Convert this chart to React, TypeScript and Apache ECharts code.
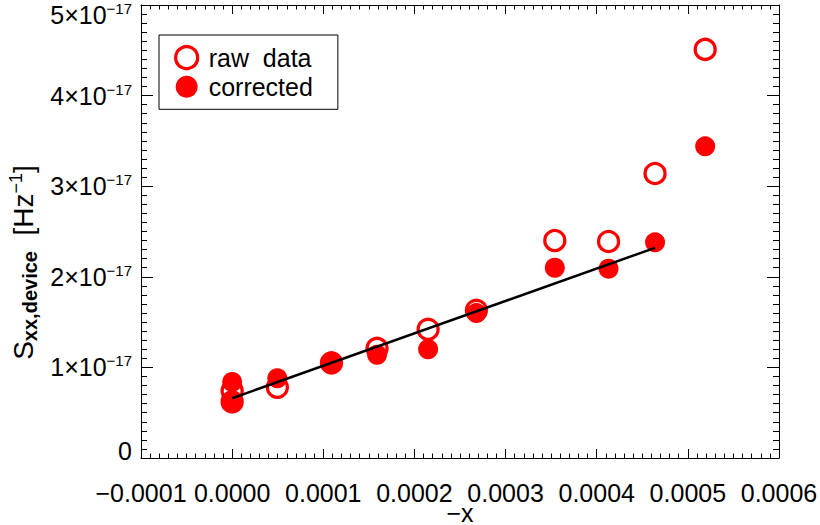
import React, { useEffect, useRef } from "react";
import * as echarts from "echarts";

// x positions (−x) shared by both data sets
const xValues = [0, 0, 0.0000496, 0.000109, 0.000159, 0.000215, 0.000268, 0.000354, 0.000413, 0.000464, 0.000519];
// S_xx,device in units of 1e-17 Hz^-1
const rawValues = [0.74, 0.62, 0.78, 1.05, 1.21, 1.42, 1.63, 2.4, 2.39, 3.14, 4.51];
const correctedValues = [0.84, 0.62, 0.88, 1.06, 1.14, 1.2, 1.6, 2.1, 2.09, 2.38, 3.44];
// linear fit end points
const fitX = [0, 0.000464];
const fitY = [0.66, 2.32];

const FONT = '"Liberation Sans", Arial, Helvetica, sans-serif';
const RED = "#ff0000";

export default function App() {
  const ref = useRef<HTMLDivElement>(null);
  useEffect(() => {
    const chart = echarts.init(ref.current as HTMLDivElement, null, { renderer: "svg" });
    const raw = xValues.map((x, i) => [x, rawValues[i]]);
    const cor = xValues.map((x, i) => [x, correctedValues[i]]);
    const fit = fitX.map((x, i) => [x, fitY[i]]);

    const xBase = {
      type: "value",
      min: -0.0001,
      max: 0.0006,
      interval: 0.0001,
      axisLine: { show: true, onZero: false, lineStyle: { color: "#000", width: 1 } },
      axisTick: { show: true, inside: true, length: 9, lineStyle: { color: "#000", width: 1 } },
      minorTick: { show: true, splitNumber: 10, length: 4.5, lineStyle: { color: "#000", width: 1 } },
      splitLine: { show: false },
      minorSplitLine: { show: false },
    };
    const yBase = {
      type: "value",
      min: 0,
      max: 5,
      interval: 1,
      axisLine: { show: true, onZero: false, lineStyle: { color: "#000", width: 1 } },
      axisTick: { show: true, inside: true, length: 12, lineStyle: { color: "#000", width: 1 } },
      minorTick: { show: true, splitNumber: 10, length: 6, lineStyle: { color: "#000", width: 1 } },
      splitLine: { show: false },
      minorSplitLine: { show: false },
    };

    chart.setOption({
      animation: false,
      backgroundColor: "#fff",
      textStyle: { fontFamily: FONT },
      grid: { left: 141, right: 41, top: 5, bottom: 67, containLabel: false, outerBoundsMode: "none" },
      legend: {
        show: true,
        left: 159,
        top: 35,
        orient: "vertical",
        padding: [10, 25, 10, 15],
        itemGap: 4,
        itemWidth: 22,
        itemHeight: 22,
        backgroundColor: "#fff",
        borderColor: "#000",
        borderWidth: 1,
        borderRadius: 0,
        textStyle: { fontFamily: FONT, fontSize: 25, lineHeight: 22, color: "#000", padding: [0, 0, 0, 6] },
        data: [
          { name: "raw data", icon: "circle", itemStyle: { color: "rgba(255,255,255,0)", borderColor: RED, borderWidth: 3.3 } },
          { name: "corrected", icon: "circle", itemStyle: { color: RED, borderWidth: 0 } },
        ],
        formatter: (n: string) => (n === "raw data" ? "raw  data" : n),
      },
      xAxis: [
        {
          ...xBase,
          position: "bottom",
          name: "−x",
          nameLocation: "middle",
          nameGap: 42,
          nameMoveOverlap: false,
          nameTextStyle: { fontFamily: FONT, fontSize: 25, color: "#000", verticalAlign: "top" },
          axisLabel: {
            show: true,
            margin: 22,
            fontFamily: FONT,
            fontSize: 25,
            color: "#000",
            formatter: (v: number) => v.toFixed(4).replace("-", "−"),
          },
        },
        { ...xBase, position: "top", axisLabel: { show: false } },
      ],
      yAxis: [
        {
          ...yBase,
          position: "left",
          name: "{s|S}{sub|xx,device}{s|  [Hz}{sup|−1}{e|]}",
          nameLocation: "middle",
          nameRotate: 90,
          nameGap: 104,
          nameMoveOverlap: false,
          nameTextStyle: {
            fontFamily: FONT,
            color: "#000",
            rich: {
              s: { fontFamily: FONT, fontSize: 28, lineHeight: 28, color: "#000" },
              e: { fontFamily: FONT, fontSize: 28, lineHeight: 28, padding: [0, 62, 0, 0], color: "#000" },
              sub: { fontFamily: FONT, fontSize: 20, fontWeight: "bold", lineHeight: 20, padding: [14, 0, 0, 0], color: "#000" },
              sup: { fontFamily: FONT, fontSize: 18, lineHeight: 18, padding: [0, 0, 14, 0], color: "#000" },
            },
          },
          axisLabel: {
            show: true,
            margin: 9,
            color: "#000",
            formatter: (v: number) => {
              const n = Math.round(v);
              if (n === 0) return "{z|0}";
              if (n === 5) return `{at|${n}×10}{st|−17}`;
              return `{a|${n}×10}{s|−17}`;
            },
            rich: {
              a: { fontFamily: FONT, fontSize: 25, lineHeight: 26, color: "#000" },
              s: { fontFamily: FONT, fontSize: 15, lineHeight: 15, padding: [0, 0, 13, 0], color: "#000" },
              at: { fontFamily: FONT, fontSize: 25, lineHeight: 26, padding: [20, 0, 0, 0], color: "#000" },
              st: { fontFamily: FONT, fontSize: 15, lineHeight: 15, padding: [20, 0, 13, 0], color: "#000" },
              z: { fontFamily: FONT, fontSize: 25, lineHeight: 26, padding: [0, 0, 14, 0], color: "#000" },
            },
          },
        },
        { ...yBase, position: "right", axisLabel: { show: false } },
      ],
      series: [
        {
          name: "raw data",
          type: "scatter",
          data: raw,
          symbol: "circle",
          symbolSize: 20,
          itemStyle: { color: "rgba(255,255,255,0)", borderColor: RED, borderWidth: 3.3, opacity: 1 },
          z: 2,
        },
        {
          name: "corrected",
          type: "scatter",
          data: cor,
          symbol: "circle",
          symbolSize: 20,
          itemStyle: { color: RED, borderWidth: 0, opacity: 1 },
          z: 3,
        },
        {
          name: "fit",
          type: "line",
          data: fit,
          showSymbol: false,
          symbol: "none",
          lineStyle: { color: "#000", width: 2.5 },
          z: 4,
        },
      ],
    });
    return () => chart.dispose();
  }, []);
  return <div ref={ref} style={{ position: "absolute", left: 0, top: 0, width: 820, height: 525 }} />;
}
